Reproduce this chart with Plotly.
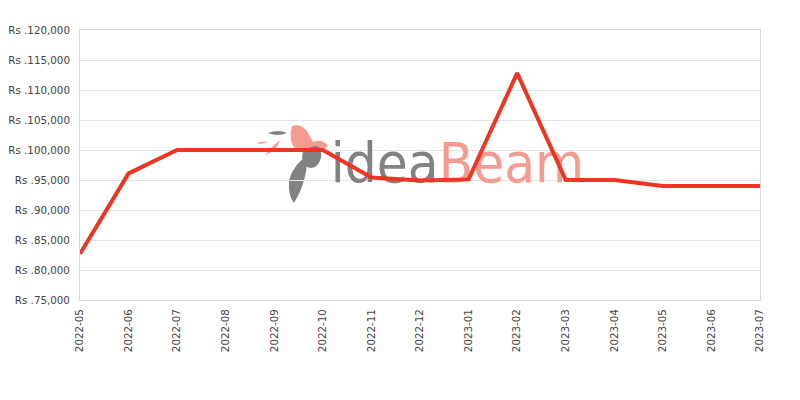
import plotly.graph_objects as go

months = ["2022-05", "2022-06", "2022-07", "2022-08", "2022-09", "2022-10", "2022-11",
          "2022-12", "2023-01", "2023-02", "2023-03", "2023-04", "2023-05", "2023-06", "2023-07"]
prices = [82700, 96100, 100000, 100000, 100000, 100000, 95400,
          94900, 95100, 112800, 95000, 95000, 94000, 94000, 94000]
y_ticks = list(range(75000, 120001, 5000))
y_tick_labels = ["Rs .{:,}".format(v) for v in y_ticks]

# target plot box in window pixels; page body has an 8px offset
OFF = 8
L, R, T, B = 80, 760, 30, 300
W, H = 800, 400


def px(x, y):
    return (x - L) / (R - L), (B - y) / (B - T)


def path(cmds):
    out = []
    for cmd in cmds:
        seg = [cmd[0]]
        coords = cmd[1:]
        for i in range(0, len(coords), 2):
            a, b = px(coords[i], coords[i + 1])
            seg.append(f"{a:.4f},{b:.4f}")
        out.append(" ".join(seg))
    return " ".join(out) + " Z"


idx = list(range(len(months)))

fig = go.Figure()

# watermark text (below line)
wx = (457.5 - L) / (R - L) * (len(months) - 1)
wy = 75000 + (B - 168) / 6 * 1000
fig.add_trace(go.Scatter(
    x=[wx], y=[wy], mode="text",
    text=["<span style='color:#828282'>idea</span><span style='color:#f59b90'>Beam</span>"],
    textfont=dict(family="DejaVu Sans Condensed, Roboto, sans-serif", size=56),
    textposition="middle center", hoverinfo="skip", showlegend=False,
))

fig.add_trace(go.Scatter(
    x=idx, y=prices, mode="lines",
    line=dict(color="#ee3524", width=4),
    showlegend=False,
))

salmon = "#f59b90"
gray = "#828282"
logo = [
    (salmon, [("M", 292, 126), ("Q", 302, 123, 308, 133), ("L", 313, 142),
              ("Q", 322, 138, 328, 146), ("L", 319, 152), ("Q", 304, 155, 295, 149),
              ("Q", 288, 140, 292, 126)]),
    (gray, [("M", 303, 152), ("Q", 323, 137, 321, 158), ("Q", 317, 171, 307, 167),
            ("Q", 300, 160, 303, 152)]),
    (gray, [("M", 306, 157), ("Q", 294, 164, 289, 180), ("Q", 288, 196, 294, 203),
            ("Q", 302, 190, 305, 176), ("Q", 308, 165, 306, 157)]),
    (gray, [("M", 268, 133), ("Q", 278, 129, 287, 133), ("Q", 278, 137, 268, 133)]),
    (salmon, [("M", 256, 143), ("Q", 262, 141, 268, 142), ("Q", 262, 145, 256, 143)]),
    (salmon, [("M", 265, 155), ("Q", 272, 146, 280, 140), ("Q", 277, 151, 265, 155)]),
]
shapes = [dict(type="path", xref="paper", yref="paper", path=path(cmds),
               fillcolor=color, line=dict(width=0), layer="between")
          for color, cmds in logo]

fig.update_layout(
    width=W, height=H,
    margin=dict(l=L - OFF, r=W - R + OFF, t=T - OFF, b=H - B + OFF),
    plot_bgcolor="white", paper_bgcolor="white",
    font=dict(family="DejaVu Sans", size=10.3, color="#444444"),
    shapes=shapes,
    xaxis=dict(
        range=[0, len(months) - 1], tickvals=idx, ticktext=months, tickangle=-90,
        showgrid=False, zeroline=False, showline=True, linecolor="#d9d9d9",
        linewidth=1, mirror=True, ticks="", automargin=False, ticklabelstandoff=4,
        tickfont=dict(size=10.3, color="#444444"),
    ),
    yaxis=dict(
        range=[75000, 120000], tickvals=y_ticks, ticktext=y_tick_labels,
        showgrid=True, gridcolor="#e3e3e3", zeroline=False, showline=True,
        linecolor="#d9d9d9", linewidth=1, mirror=True, ticks="", automargin=False,
        ticklabelstandoff=7, tickfont=dict(size=10.3, color="#444444"),
    ),
)

fig.write_html("out.html")
